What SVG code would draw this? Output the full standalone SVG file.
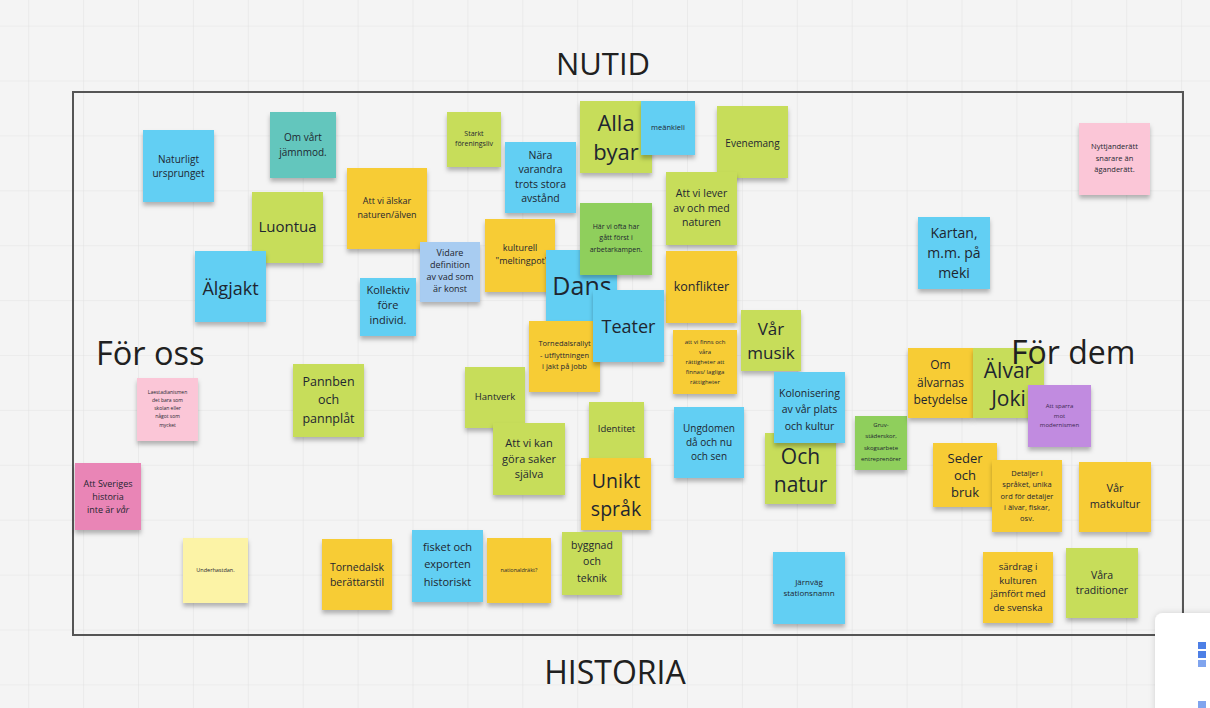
<svg xmlns="http://www.w3.org/2000/svg" width="1210" height="708" viewBox="0 0 1210 708">
  <defs>
    <pattern id="grid" x="28.2" y="25.6" width="54.9" height="54.9" patternUnits="userSpaceOnUse">
      <path d="M0 0H54.9M0 0V54.9" fill="none" stroke="#e3e3e3" stroke-width="1.2"/>
    </pattern>
    <filter id="shadow" x="-20%" y="-20%" width="140%" height="150%">
      <feDropShadow dx="0" dy="3.5" stdDeviation="2.2" flood-color="#000" flood-opacity="0.28"/>
    </filter>
    <filter id="panelShadow" x="-30%" y="-30%" width="160%" height="160%">
      <feDropShadow dx="0" dy="0" stdDeviation="3" flood-color="#000" flood-opacity="0.15"/>
    </filter>
  </defs>
  <style>
    .note rect { filter: url(#shadow); }
    .blue { fill: #62cff3; }
    .yel { fill: #f7cc36; }
    .lime { fill: #c7dd5a; }
    .grn { fill: #8fcf5c; }
    .teal { fill: #63c6bd; }
    .pink { fill: #fbc6d7; }
    .rose { fill: #e985b6; }
    .purp { fill: #c18be0; }
    .sky { fill: #a8ccf1; }
    .pale { fill: #fcf3a6; }
    .note text { font-family: "Open Sans", "Liberation Sans", sans-serif; fill: #1e2630; text-anchor: middle; }
    .title { font-family: "Open Sans", "Liberation Sans", sans-serif; fill: #202020; }
  </style>

  <!-- board background -->
  <rect width="1210" height="708" fill="#f4f4f4"/>
  <rect width="1210" height="708" fill="url(#grid)"/>

  <!-- frame -->
  <rect x="73" y="92" width="1110" height="543" fill="none" stroke="#555" stroke-width="2"/>

  <!-- axis labels -->
  <text class="title" x="603" y="75" font-size="31" text-anchor="middle">NUTID</text>
  <text class="title" x="615" y="684" font-size="32" text-anchor="middle">HISTORIA</text>
  <text class="title" x="96" y="365" font-size="32.5">För oss</text>

  <g id="nodes">
    <g id="n-naturligt" class="note"><rect class="blue" x="143" y="130" width="71" height="72"/>
      <text x="178.5" y="163" font-size="10">Naturligt<tspan x="178.5" dy="14">ursprunget</tspan></text></g>
    <g id="n-jamnmod" class="note"><rect class="teal" x="270" y="112" width="66" height="66"/>
      <text x="303" y="140.5" font-size="10">Om vårt<tspan x="303" dy="15">jämnmod.</tspan></text></g>
    <g id="n-luontua" class="note"><rect class="lime" x="252" y="192" width="71" height="71"/>
      <text x="287.5" y="232" font-size="15">Luontua</text></g>
    <g id="n-algjakt" class="note"><rect class="blue" x="195" y="251" width="71" height="71"/>
      <text x="230.5" y="295" font-size="18">Älgjakt</text></g>
    <g id="n-forening" class="note"><rect class="lime" x="447" y="112" width="54" height="55"/>
      <text x="474" y="135.5" font-size="7">Starkt<tspan x="474" dy="10">föreningsliv</tspan></text></g>
    <g id="n-nara" class="note"><rect class="blue" x="505" y="142" width="71" height="71"/>
      <text x="540.5" y="158.7" font-size="10.5">Nära<tspan x="540.5" dy="14.5">varandra</tspan><tspan x="540.5" dy="14.5">trots stora</tspan><tspan x="540.5" dy="14.5">avstånd</tspan></text></g>
    <g id="n-alskar" class="note"><rect class="yel" x="347" y="168" width="80" height="81"/>
      <text x="387" y="204" font-size="9">Att vi älskar<tspan x="387" dy="13.5">naturen/älven</tspan></text></g>
    <g id="n-vidare" class="note"><rect class="sky" x="420" y="242" width="60" height="60"/>
      <text x="450" y="256" font-size="9">Vidare<tspan x="450" dy="12">definition</tspan><tspan x="450" dy="12">av vad som</tspan><tspan x="450" dy="12">är konst</tspan></text></g>
    <g id="n-kollektiv" class="note"><rect class="blue" x="360" y="278" width="56" height="58"/>
      <text x="388" y="294" font-size="11">Kollektiv<tspan x="388" dy="15">före</tspan><tspan x="388" dy="15">individ.</tspan></text></g>
    <g id="n-kulturell" class="note"><rect class="yel" x="485" y="219" width="70" height="73"/>
      <text x="520" y="251" font-size="9">kulturell<tspan x="522" dy="13">"meltingpot"</tspan></text></g>
    <g id="n-alla-byar" class="note"><rect class="lime" x="580" y="101" width="72" height="72"/>
      <text x="616" y="131" font-size="22">Alla<tspan x="616" dy="29">byar</tspan></text></g>
    <g id="n-meankieli" class="note"><rect class="blue" x="641" y="101" width="54" height="54"/>
      <text x="668" y="130" font-size="7.5">meänkieli</text></g>
    <g id="n-evenemang" class="note"><rect class="lime" x="717" y="106" width="71" height="72"/>
      <text x="752.5" y="146.5" font-size="10">Evenemang</text></g>
    <g id="n-lever" class="note"><rect class="lime" x="666" y="172" width="71" height="73"/>
      <text x="701.5" y="197" font-size="10.5">Att vi lever<tspan x="701.5" dy="14.7">av och med</tspan><tspan x="701.5" dy="14.7">naturen</tspan></text></g>
    <g id="n-dans" class="note"><rect class="blue" x="546" y="250" width="71" height="72"/>
      <text x="582" y="295" font-size="25">Dans</text></g>
    <g id="n-arbetarkampen" class="note"><rect class="grn" x="580" y="203" width="72" height="72"/>
      <text x="616" y="229" font-size="7">Här vi ofta har<tspan x="616" dy="11.3">gått först i</tspan><tspan x="616" dy="11.3">arbetarkampen.</tspan></text></g>
    <g id="n-konflikter" class="note"><rect class="yel" x="666" y="251" width="71" height="72"/>
      <text x="701.5" y="291" font-size="12.5">konflikter</text></g>
    <g id="n-rallyt" class="note"><rect class="yel" x="529" y="321" width="71" height="71"/>
      <text x="564.5" y="346" font-size="7.5">Tornedalsrallyt<tspan x="564.5" dy="11.7">- utflyttningen</tspan><tspan x="564.5" dy="11.7">i jakt på jobb</tspan></text></g>
    <g id="n-teater" class="note"><rect class="blue" x="593" y="290" width="71" height="72"/>
      <text x="628.5" y="333" font-size="18">Teater</text></g>
    <g id="n-rattigheter" class="note"><rect class="yel" x="673" y="330" width="64" height="64"/>
      <text x="705" y="344" font-size="6">att vi finns och<tspan x="705" dy="10">våra</tspan><tspan x="705" dy="10">rättigheter att</tspan><tspan x="705" dy="10">finnas/ lagliga</tspan><tspan x="705" dy="10">rättigheter</tspan></text></g>
    <g id="n-musik" class="note"><rect class="lime" x="741" y="310" width="60" height="61"/>
      <text x="771" y="335" font-size="17">Vår<tspan x="771" dy="24">musik</tspan></text></g>
    <g id="n-pannben" class="note"><rect class="lime" x="293" y="364" width="71" height="73"/>
      <text x="328.5" y="386" font-size="12.5">Pannben<tspan x="328.5" dy="18.3">och</tspan><tspan x="328.5" dy="18.3">pannplåt</tspan></text></g>
    <g id="n-hantverk" class="note"><rect class="lime" x="465" y="367" width="60" height="61"/>
      <text x="495" y="400" font-size="9.5">Hantverk</text></g>
    <g id="n-sjalva" class="note"><rect class="lime" x="493" y="423" width="72" height="72"/>
      <text x="529" y="447" font-size="11">Att vi kan<tspan x="529" dy="15.5">göra saker</tspan><tspan x="529" dy="15.5">själva</tspan></text></g>
    <g id="n-identitet" class="note"><rect class="lime" x="589" y="402" width="55" height="56"/>
      <text x="616.5" y="431.5" font-size="9.5">Identitet</text></g>
    <g id="n-unikt" class="note"><rect class="yel" x="581" y="458" width="70" height="72"/>
      <text x="616" y="488" font-size="19.5">Unikt<tspan x="616" dy="28">språk</tspan></text></g>
    <g id="n-ungdomen" class="note"><rect class="blue" x="674" y="407" width="70" height="71"/>
      <text x="709" y="431.7" font-size="10">Ungdomen<tspan x="709" dy="14.2">då och nu</tspan><tspan x="709" dy="14.2">och sen</tspan></text></g>
    <g id="n-och-natur" class="note"><rect class="lime" x="765" y="433" width="71" height="71"/>
      <text x="800.5" y="464" font-size="21">Och<tspan x="800.5" dy="28">natur</tspan></text></g>
    <g id="n-kolonisering" class="note"><rect class="blue" x="774" y="372" width="71" height="71"/>
      <text x="809.5" y="397" font-size="10.5">Kolonisering<tspan x="809.5" dy="16.3">av vår plats</tspan><tspan x="809.5" dy="16.3">och kultur</tspan></text></g>
    <g id="n-gruv" class="note"><rect class="grn" x="855" y="416" width="52" height="54"/>
      <text x="881" y="427" font-size="6">Gruv-<tspan x="881" dy="11.4">städerskor,</tspan><tspan x="881" dy="11.4">skogsarbete</tspan><tspan x="881" dy="11.4">entreprenörer</tspan></text></g>
    <g id="n-kartan" class="note"><rect class="blue" x="918" y="217" width="72" height="72"/>
      <text x="954" y="237.7" font-size="14">Kartan,<tspan x="954" dy="20">m.m. på</tspan><tspan x="954" dy="20">meki</tspan></text></g>
    <g id="n-nyttjanderatt" class="note"><rect class="pink" x="1079" y="123" width="71" height="72"/>
      <text x="1114.5" y="149.3" font-size="7.5">Nyttjanderätt<tspan x="1114.5" dy="11.3">snarare än</tspan><tspan x="1114.5" dy="11.3">äganderätt.</tspan></text></g>
    <g id="n-alvarnas" class="note"><rect class="yel" x="908" y="348" width="65" height="70"/>
      <text x="940.5" y="369" font-size="12">Om<tspan x="940.5" dy="17.5">älvarnas</tspan><tspan x="940.5" dy="17.5">betydelse</tspan></text></g>
    <g id="n-alvar-joki" class="note"><rect class="lime" x="973" y="348" width="71" height="70"/>
      <text x="1008.5" y="377.5" font-size="21">Älvar<tspan x="1008.5" dy="28">Joki</tspan></text></g>
    <g id="n-modernismen" class="note"><rect class="purp" x="1028" y="385" width="63" height="62"/>
      <text x="1059.5" y="408" font-size="6" style="fill:#3b2850">Att sparra<tspan x="1059.5" dy="9.5">mot</tspan><tspan x="1059.5" dy="9.5">modernismen</tspan></text></g>
    <g id="n-seder" class="note"><rect class="yel" x="933" y="443" width="64" height="64"/>
      <text x="965" y="463" font-size="13">Seder<tspan x="965" dy="17.2">och</tspan><tspan x="965" dy="17.2">bruk</tspan></text></g>
    <g id="n-detaljer" class="note"><rect class="yel" x="992" y="460" width="70" height="72"/>
      <text x="1027" y="476" font-size="7.5">Detaljer i<tspan x="1027" dy="11.3">språket, unika</tspan><tspan x="1027" dy="11.3">ord för detaljer</tspan><tspan x="1027" dy="11.3">i älvar, fiskar,</tspan><tspan x="1027" dy="11.3">osv.</tspan></text></g>
    <g id="n-matkultur" class="note"><rect class="yel" x="1079" y="462" width="72" height="70"/>
      <text x="1115" y="492" font-size="11">Vår<tspan x="1115" dy="16">matkultur</tspan></text></g>
    <g id="n-laestadianismen" class="note"><rect class="pink" x="137" y="378" width="61" height="63"/>
      <text x="167.5" y="393.5" font-size="5">Laestadianismen<tspan x="167.5" dy="8.3">det bara som</tspan><tspan x="167.5" dy="8.3">skolan eller</tspan><tspan x="167.5" dy="8.3">något som</tspan><tspan x="167.5" dy="8.3">mycket</tspan></text></g>
    <g id="n-sveriges" class="note"><rect class="rose" x="75" y="463" width="66" height="67"/>
      <text x="108" y="486.5" font-size="9">Att Sveriges<tspan x="108" dy="13.3">historia</tspan><tspan x="108" dy="13.3">inte är <tspan font-style="italic">vår</tspan></tspan></text></g>
    <g id="n-pale" class="note"><rect class="pale" x="183" y="538" width="65" height="65"/>
      <text x="215.5" y="572" font-size="5.5">Underhastdan.</text></g>
    <g id="n-berattarstil" class="note"><rect class="yel" x="322" y="539" width="70" height="71"/>
      <text x="357" y="570.5" font-size="10.5">Tornedalsk<tspan x="357" dy="15">berättarstil</tspan></text></g>
    <g id="n-fisket" class="note"><rect class="blue" x="412" y="530" width="71" height="72"/>
      <text x="447.5" y="550.5" font-size="11">fisket och<tspan x="447.5" dy="17.5">exporten</tspan><tspan x="447.5" dy="17.5">historiskt</tspan></text></g>
    <g id="n-nationaldrakt" class="note"><rect class="yel" x="487" y="538" width="64" height="65"/>
      <text x="519" y="572" font-size="5.5">nationaldräkt?</text></g>
    <g id="n-byggnad" class="note"><rect class="lime" x="562" y="532" width="60" height="63"/>
      <text x="592" y="548.5" font-size="10.5">byggnad<tspan x="592" dy="16.5">och</tspan><tspan x="592" dy="16.5">teknik</tspan></text></g>
    <g id="n-jarnvag" class="note"><rect class="blue" x="773" y="552" width="72" height="72"/>
      <text x="809" y="584.5" font-size="8">Järnväg<tspan x="809" dy="11.7">stationsnamn</tspan></text></g>
    <g id="n-sardrag" class="note"><rect class="yel" x="983" y="552" width="70" height="71"/>
      <text x="1018" y="570" font-size="9.5">särdrag i<tspan x="1018" dy="13.5">kulturen</tspan><tspan x="1018" dy="13.5">jämfört med</tspan><tspan x="1018" dy="13.5">de svenska</tspan></text></g>
    <g id="n-traditioner" class="note"><rect class="lime" x="1066" y="548" width="72" height="70"/>
      <text x="1102" y="578.5" font-size="10.5">Våra<tspan x="1102" dy="15">traditioner</tspan></text></g>
  </g>

  <text class="title" x="1011" y="364" font-size="32">För dem</text>

  <!-- connectors: none on this board -->
  <g id="connectors"/>

  <!-- corner toolbar -->
  <g id="toolbar">
    <rect x="1155" y="613" width="80" height="110" rx="8" fill="#ffffff" filter="url(#panelShadow)"/>
    <rect x="1198" y="642" width="8" height="7" fill="#4d7fe6"/>
    <rect x="1198" y="651" width="8" height="7" fill="#4d7fe6"/>
    <rect x="1198" y="660" width="8" height="7" fill="#7fa4ee"/>
    <rect x="1198" y="701" width="8" height="7" fill="#7fa4ee"/>
  </g>
</svg>
